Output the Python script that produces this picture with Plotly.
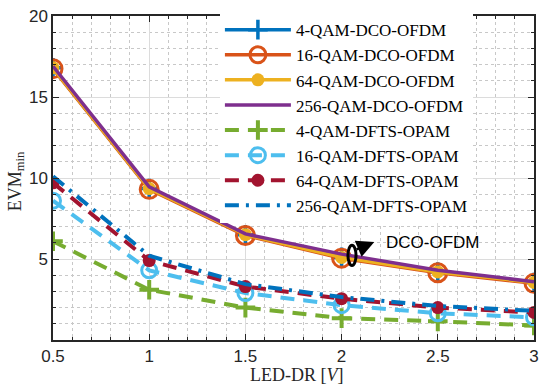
import plotly.graph_objects as go

x_vals = [0.5, 1, 1.5, 2, 2.5, 3]

dco_4 = [16.8, 9.35, 6.5, 5.1, 4.2, 3.55]
dco_16 = [16.75, 9.3, 6.45, 5.05, 4.15, 3.5]
dco_64 = [16.8, 9.35, 6.5, 5.1, 4.2, 3.55]
dco_256 = [16.9, 9.45, 6.55, 5.3, 4.3, 3.6]

dfts_4 = [6.1, 3.1, 2.0, 1.35, 1.15, 0.9]
dfts_16 = [8.6, 4.3, 2.9, 2.15, 1.65, 1.4]
dfts_64 = [9.7, 4.9, 3.3, 2.55, 2.0, 1.7]
dfts_256 = [10.1, 5.2, 3.45, 2.65, 2.1, 1.8]

names = ["4-QAM-DCO-OFDM", "16-QAM-DCO-OFDM", "64-QAM-DCO-OFDM", "256-QAM-DCO-OFDM",
         "4-QAM-DFTS-OPAM", "16-QAM-DFTS-OPAM", "64-QAM-DFTS-OPAM", "256-QAM-DFTS-OPAM"]

x_ticks = [0.5, 1, 1.5, 2, 2.5, 3]
x_tick_text = ["0.5", "1", "1.5", "2", "2.5", "3"]
y_ticks = [5, 10, 15, 20]
y_tick_text = ["5", "10", "15", "20"]

SERIF = "Liberation Serif"
SANS = "Liberation Sans"

fig = go.Figure()

def add(y, name, color, dash, width, symbol=None, msize=0, mlw=0, group="a"):
    marker = dict(size=msize, symbol=symbol, color=color,
                  line=dict(color=color, width=mlw)) if symbol else None
    fig.add_trace(go.Scatter(
        x=x_vals, y=y, name=name, legendgroup=group,
        mode="lines+markers" if symbol else "lines",
        line=dict(color=color, width=width, dash=dash),
        marker=marker,
    ))

add(dco_4, names[0], "#0072BD", "solid", 3.5, "cross-thin", 14, 3.5, "a")
add(dco_16, names[1], "#D95319", "solid", 3.5, "circle-open", 18, 3, "a")
add(dco_64, names[2], "#EDB120", "solid", 3.5, "circle", 13, 0, "a")
add(dco_256, names[3], "#7E2F8E", "solid", 3.5, None, group="a")

add(dfts_4, names[4], "#77AC30", "14px,9px", 4, "cross-thin", 14, 4, "b")
add(dfts_16, names[5], "#4DBEEE", "14px,9px", 4, "circle-open", 15, 3, "b")
add(dfts_64, names[6], "#A2142F", "14px,9px", 4, "circle", 13, 0, "b")
add(dfts_256, names[7], "#0072BD", "14px,7px,3px,7px", 4, None, group="b")

# Ellipse and arrow annotation
fig.add_shape(type="circle", xref="x", yref="y", x0=2.033, x1=2.075, y0=4.6, y1=5.85,
              line=dict(color="black", width=3))
fig.add_annotation(x=2.17, y=6.05, ax=2.07, ay=5.55, axref="x", ayref="y",
                   xref="x", yref="y", text="", showarrow=True,
                   arrowhead=2, arrowsize=1.4, arrowwidth=2.5, arrowcolor="black")
fig.add_annotation(x=2.22, y=6.0, xref="x", yref="y", text="DCO-OFDM", showarrow=False,
                   xanchor="left", yanchor="middle",
                   font=dict(family=SANS, size=17, color="black"))

# Axis titles
fig.add_annotation(x=0.507, y=-0.107, xref="paper", yref="paper", text="LED-DR [<i>V</i>]",
                   showarrow=False, xanchor="center", yanchor="middle",
                   font=dict(family=SERIF, size=18, color="#262626"))
fig.add_annotation(x=-0.077, y=0.49, xref="paper", yref="paper", text="EVM<sub>min</sub>",
                   showarrow=False, xanchor="center", yanchor="middle", textangle=-90,
                   font=dict(family=SERIF, size=18, color="#262626"))

axis_common = dict(
    showline=True, linecolor="#262626", linewidth=1.5, mirror="ticks",
    ticks="inside", ticklen=6, tickwidth=1.2, tickcolor="#262626",
    showgrid=True, gridcolor="#dcdcdc", gridwidth=1, zeroline=False,
    automargin=False,
    tickfont=dict(family=SANS, size=17, color="#262626"),
)

fig.update_xaxes(range=[0.5, 3], tickvals=x_ticks, ticktext=x_tick_text,
                 minor=dict(dtick=0.1, ticks="inside", ticklen=3, tickcolor="#262626",
                            showgrid=True, gridcolor="#c8c8c8", griddash="dot", gridwidth=1),
                 **axis_common)
fig.update_yaxes(range=[0, 20], tickvals=y_ticks, ticktext=y_tick_text,
                 minor=dict(dtick=1, ticks="inside", ticklen=3, tickcolor="#262626",
                            showgrid=True, gridcolor="#c8c8c8", griddash="dot", gridwidth=1),
                 **axis_common)

fig.update_layout(
    width=550, height=389,
    margin=dict(l=53, r=16, t=13, b=49),
    plot_bgcolor="white", paper_bgcolor="white",
    legend=dict(x=0.347, y=1.012, xanchor="left", yanchor="top",
                bgcolor="white", borderwidth=0, itemwidth=66, maxheight=1000,
                traceorder="grouped", tracegroupgap=0,
                font=dict(family=SERIF, size=17, color="black")),
)

fig.write_html("out.html", config={"displayModeBar": False},
               post_script="document.body.style.margin='0';document.body.style.overflow='hidden';")
